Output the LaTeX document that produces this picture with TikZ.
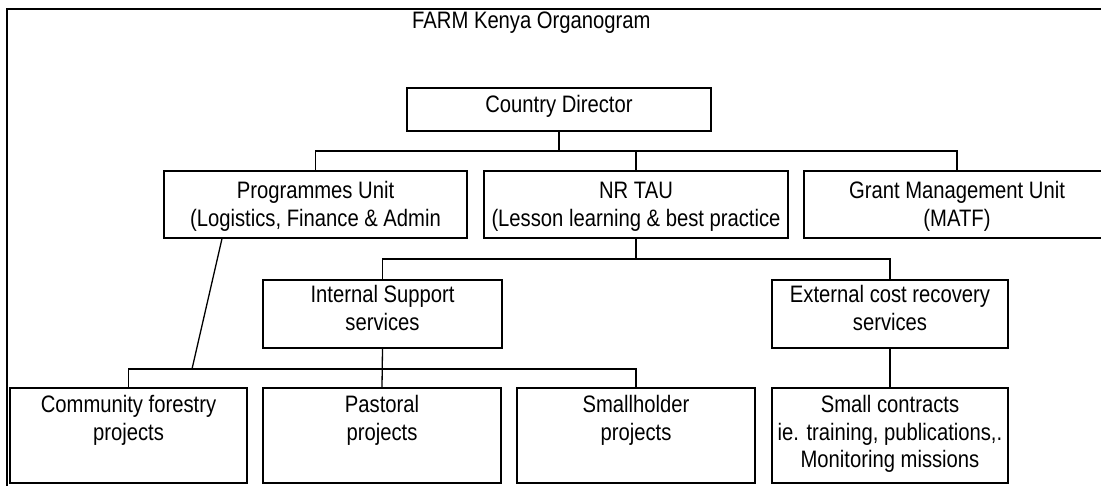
\documentclass[tikz,border=0pt]{standalone}
\usepackage{fontspec}
\setmainfont[FakeStretch=0.85]{Liberation Sans}
\newcommand\linestrut{\rule{0pt}{18pt}}
\begin{document}
\begin{tikzpicture}[x=1pt,y=-1pt,
  unit/.style={draw, line width=1.3pt, inner sep=0pt},
  lbl/.style={anchor=north, align=center, inner sep=0pt,
    font=\fontsize{23.8}{27.5}\selectfont},
  link/.style={line width=1.3pt}]
\useasboundingbox (0,0) rectangle (1101,485);
\clip (0,0) rectangle (1101,485);
% outer frame
\draw[line width=2.6pt] (7,9) rectangle (1120,500);
% title
\node[lbl, anchor=north west] (title) at (412,10) {\linestrut FARM Kenya Organogram};
% boxes
\node[unit, minimum width=304pt, minimum height=43pt] (cd) at (559,109.5) {};
\node[unit, minimum width=303pt, minimum height=67pt] (pu) at (315.5,204.5) {};
\node[unit, minimum width=304pt, minimum height=67pt] (nr) at (636,204.5) {};
\node[unit, minimum width=306pt, minimum height=67pt] (gm) at (957,204.5) {};
\node[unit, minimum width=239pt, minimum height=68pt] (is) at (382.5,314) {};
\node[unit, minimum width=236pt, minimum height=68pt] (ex) at (890,314) {};
\node[unit, minimum width=237pt, minimum height=95pt] (cf) at (128.5,435.5) {};
\node[unit, minimum width=238pt, minimum height=95pt] (pa) at (382,435.5) {};
\node[unit, minimum width=238pt, minimum height=95pt] (sh) at (636,435.5) {};
\node[unit, minimum width=236pt, minimum height=95pt] (sc) at (890,435.5) {};
% box texts (y axis points down, so a negative yshift moves a text down)
\node[lbl] (cdt) at ([yshift=-7pt]cd.north) {\linestrut Country Director};
\node[lbl] (put) at ([yshift=-10pt]pu.north) {\linestrut Programmes Unit\\(Logistics, Finance \& Admin};
\node[lbl] (nrt) at ([yshift=-10pt]nr.north) {\linestrut NR TAU\\(Lesson learning \& best practice};
\node[lbl] (gmt) at ([yshift=-10pt]gm.north) {\linestrut Grant Management Unit\\(MATF)};
\node[lbl] (ist) at ([yshift=-5pt]is.north) {\linestrut Internal Support\\services};
\node[lbl] (ext) at ([yshift=-5pt]ex.north) {\linestrut External cost recovery\\services};
\node[lbl] (cft) at ([yshift=-7pt]cf.north) {\linestrut Community forestry\\projects};
\node[lbl] (pat) at ([yshift=-7pt]pa.north) {\linestrut Pastoral\\projects};
\node[lbl] (sht) at ([yshift=-7pt]sh.north) {\linestrut Smallholder\\projects};
\node[lbl] (sct) at ([yshift=-7pt]sc.north) {\linestrut Small contracts\\ie. training, publications,.\\Monitoring missions};
% connector junctions
\coordinate (bara) at (559,151);
\coordinate (barb) at (636,259);
\coordinate (barc) at (382,369);
\coordinate (slantend) at (192,369);
% connectors
\draw[link] (cd.south) -- (bara);
\draw[link] (pu.north) |- (bara) -| (gm.north);
\draw[link] (nr.north) -- (nr.north |- bara);
\draw[link] (nr.south) -- (barb);
\draw[link] (is.north) |- (barb) -| (ex.north);
\draw[link] (is.south) -- (pa.north);
\draw[link] (cf.north) |- (barc) -| (sh.north);
\draw[link] ([xshift=-93.5pt]pu.south) -- (slantend);
\draw[link] (ex.south) -- (sc.north);
\end{tikzpicture}
\end{document}
